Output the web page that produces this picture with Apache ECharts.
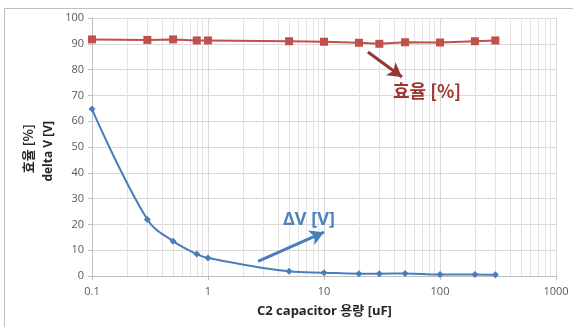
<!DOCTYPE html>
<html>
<head>
<meta charset="utf-8">
<script src="https://cdn.jsdelivr.net/npm/echarts@6/dist/echarts.min.js"></script>
<style>
  html, body { margin: 0; padding: 0; background: #fff; }
  #chart { width: 573px; height: 327px; }
</style>
</head>
<body>
<div id="chart"></div>
<script>
// capacitance [uF]
const capValues = [0.1, 0.3, 0.5, 0.8, 1, 5, 10, 20, 30, 50, 100, 200, 300]
// efficiency [%]
const effValues = [91.7, 91.5, 91.7, 91.3, 91.3, 91.0, 90.8, 90.4, 90.0, 90.6, 90.5, 91.0, 91.3]
// delta V [V]
const dvValues = [64.7, 21.9, 13.5, 8.5, 7.0, 1.8, 1.3, 0.9, 0.9, 1.0, 0.6, 0.6, 0.5]
// minor log grid lines
const minorGrid = [0.2, 0.3, 0.4, 0.5, 0.6, 0.7, 0.8, 0.9,
  2, 3, 4, 5, 6, 7, 8, 9,
  20, 30, 40, 50, 60, 70, 80, 90,
  200, 300, 400, 500, 600, 700, 800, 900]

const chart = echarts.init(document.getElementById('chart'))

const option = {
  animation: false,
  backgroundColor: '#fff',
  textStyle: { fontFamily: 'Open Sans, Noto Sans CJK KR, sans-serif' },
  grid: { left: 92, right: 17, top: 18, bottom: 51 },
  xAxis: {
    type: 'log',
    logBase: 10,
    min: 0.1,
    max: 1000,
    axisLine: { show: true, lineStyle: { color: '#bfbfbf' } },
    axisTick: { show: true, length: 4, lineStyle: { color: '#bfbfbf' } },
    axisLabel: {
      color: '#595959', fontSize: 11, margin: 10,
      formatter: v => String(v)
    },
    splitLine: { show: true, lineStyle: { color: '#d9d9d9' } }
  },
  yAxis: {
    type: 'value',
    min: 0,
    max: 100,
    interval: 10,
    axisLine: { show: true, lineStyle: { color: '#bfbfbf' } },
    axisTick: { show: true, length: 4, lineStyle: { color: '#bfbfbf' } },
    axisLabel: { color: '#595959', fontSize: 11, margin: 8 },
    splitLine: { show: true, lineStyle: { color: '#d9d9d9' } }
  },
  graphic: [
    {
      type: 'rect', silent: true, z: -10,
      shape: { x: 4.5, y: 8.5, width: 700, height: 400 },
      style: { fill: 'none', stroke: '#bfbfbf', lineWidth: 1 }
    },
    {
      type: 'text', left: 22, top: 124, rotation: Math.PI / 2, z: 100,
      style: { text: '효율 [%]', font: 'bold 13px "Noto Sans CJK KR", sans-serif', fill: '#262626' }
    },
    {
      type: 'text', left: 43, top: 121, rotation: Math.PI / 2, z: 100,
      style: { text: 'delta V [V]', font: 'bold 12px "Open Sans", sans-serif', fill: '#262626' }
    },
    {
      type: 'text', left: 257, top: 305, z: 100,
      style: { text: 'C2 capacitor 용량 [uF]', font: 'bold 13px "Open Sans", "Noto Sans CJK KR", sans-serif', fill: '#262626' }
    },
    {
      type: 'text', left: 393, top: 82, z: 100,
      style: { text: '효율 [%]', font: 'bold 18px "Noto Sans CJK KR", sans-serif', fill: '#a0342f' }
    },
    {
      type: 'text', left: 283, top: 211, z: 100,
      style: { text: 'ΔV [V]', font: 'bold 18px "Open Sans", sans-serif', fill: '#4f81bd' }
    }
  ],
  series: [
    {
      name: 'grid',
      type: 'line',
      data: [],
      silent: true,
      z: 0,
      markLine: {
        silent: true,
        z: 0,
        symbol: ['none', 'none'],
        label: { show: false },
        lineStyle: { color: '#e3e3e3', width: 1, type: 'solid' },
        data: minorGrid.map(v => ({ xAxis: v }))
      }
    },
    {
      name: '효율',
      type: 'line',
      data: capValues.map((c, i) => [c, effValues[i]]),
      symbol: 'rect',
      symbolSize: 8,
      itemStyle: { color: '#c0504d' },
      lineStyle: { color: '#c0504d', width: 2 },
      z: 5,
      markLine: {
        silent: true,
        symbol: ['none', 'arrow'],
        symbolSize: [12, 14],
        label: { show: false },
        lineStyle: { color: '#943634', width: 3, type: 'solid' },
        data: [[{ coord: [23.9, 86.8] }, { coord: [47, 77.1] }]]
      }
    },
    {
      name: 'delta V',
      type: 'line',
      data: capValues.map((c, i) => [c, dvValues[i]]),
      smooth: 0.4,
      symbol: 'diamond',
      symbolSize: 7,
      itemStyle: { color: '#4a7ebb' },
      lineStyle: { color: '#4a7ebb', width: 2 },
      z: 5,
      markLine: {
        silent: true,
        symbol: ['none', 'arrow'],
        symbolSize: [12, 14],
        label: { show: false },
        lineStyle: { color: '#4a7ebb', width: 3, type: 'solid' },
        data: [[{ coord: [2.7, 5.7] }, { coord: [10, 17.0] }]]
      }
    }
  ]
}

chart.setOption(option)
</script>
</body>
</html>
